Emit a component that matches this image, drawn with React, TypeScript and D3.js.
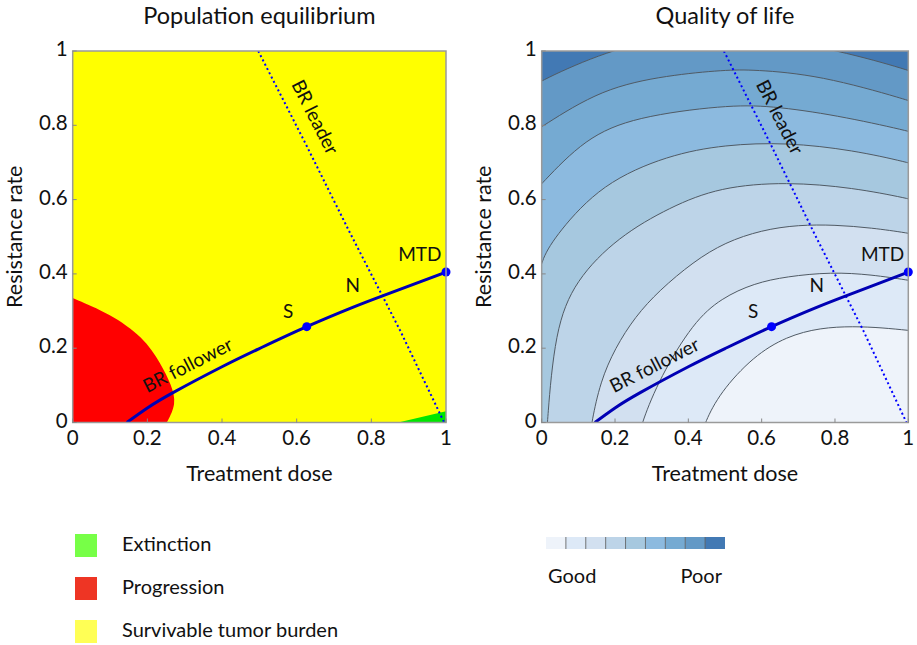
import * as d3 from 'd3';
import React from 'react';

const W = 917;
const H = 645;
const FONT = 'Lato, "Open Sans", sans-serif';

// axis ticks
const ticks = [0, 0.2, 0.4, 0.6, 0.8, 1];
const tickLabels = ['0', '0.2', '0.4', '0.6', '0.8', '1'];

// population equilibrium regions
const progression: number[][] = [
  [0, 0.335], [0.1, 0.293], [0.189, 0.23], [0.236, 0.159],
  [0.265, 0.1], [0.278, 0.05], [0.252, 0],
];
const extinction: number[][] = [[0.872, 0], [1, 0.03], [1, 0]];

// best-response curves
const follower: number[][] = [
  [0.145, 0], [0.2, 0.039], [0.27, 0.081], [0.4, 0.15], [0.5, 0.199],
  [0.627, 0.258], [0.75, 0.31], [0.83, 0.341], [1.0, 0.405],
];
const leader: number[][] = [
  [0.497, 1], [0.62, 0.758], [0.743, 0.51], [0.83, 0.34], [0.877, 0.248], [0.995, 0],
];
const points = [
  { name: 'S', x: 0.627, y: 0.258 },
  { name: 'MTD', x: 1.0, y: 0.405 },
];
const pointLabels = [
  { name: 'S', x: 0.577, y: 0.293 },
  { name: 'N', x: 0.75, y: 0.364 },
  { name: 'MTD', x: 0.93, y: 0.448 },
];

// quality of life contour lines, outer (poor) to inner (good)
const contours: number[][][] = [
  [[-0.05, 0.89], [0, 0.922], [0.177, 1.0], [0.35, 1.04], [0.55, 1.05], [0.818, 1.0], [1.0, 0.949], [1.05, 0.93]],
  [[-0.05, 0.765], [0, 0.796], [0.164, 0.899], [0.345, 0.935], [0.5, 0.949], [0.577, 0.95], [0.759, 0.935], [1.0, 0.868], [1.05, 0.85]],
  [[-0.05, 0.59], [0, 0.643], [0.118, 0.765], [0.255, 0.823], [0.5, 0.854], [0.623, 0.853], [0.805, 0.827], [1.0, 0.785], [1.05, 0.77]],
  [[-0.03, 0.3], [-0.012, 0.38], [0, 0.44], [0.043, 0.51], [0.164, 0.643], [0.345, 0.72], [0.5, 0.748], [0.668, 0.754], [0.85, 0.733], [1.0, 0.7], [1.05, 0.685]],
  [[0.013, -0.05], [0.015, 0], [0.036, 0.248], [0.091, 0.383], [0.209, 0.5], [0.35, 0.58], [0.486, 0.634], [0.668, 0.648], [0.85, 0.632], [1.0, 0.603], [1.05, 0.59]],
  [[0.13, -0.05], [0.136, 0], [0.16, 0.11], [0.2, 0.2], [0.255, 0.285], [0.32, 0.355], [0.414, 0.433], [0.5, 0.485], [0.6, 0.518], [0.7, 0.532], [0.8, 0.532], [0.9, 0.524], [1.0, 0.51], [1.05, 0.5]],
  [[0.262, -0.05], [0.273, 0], [0.323, 0.122], [0.414, 0.27], [0.49, 0.335], [0.58, 0.375], [0.668, 0.393], [0.79, 0.405], [0.9, 0.398], [1.0, 0.383], [1.05, 0.375]],
  [[0.43, -0.05], [0.445, 0], [0.486, 0.08], [0.577, 0.178], [0.668, 0.232], [0.76, 0.255], [0.85, 0.259], [0.93, 0.255], [1.0, 0.248], [1.05, 0.243]],
];
// band colours, poor to good
const bandColors = [
  '#4279b4', '#6399c6', '#75aad2', '#8cbadf', '#a6c8df',
  '#bdd4e8', '#d2e0f0', '#dde9f7', '#eef3fa',
];

const legendItems = [
  { label: 'Extinction', color: '#77ff47' },
  { label: 'Progression', color: '#ee3524' },
  { label: 'Survivable tumor burden', color: '#ffff55' },
];

const Panel = ({ x0, x1, title, id, qol }: { x0: number; x1: number; title: string; id: string; qol: boolean }) => {
  const y0 = 51;
  const y1 = 422.5;
  const xScale = d3.scaleLinear().domain([0, 1]).range([x0, x1]);
  const yScale = d3.scaleLinear().domain([0, 1]).range([y1, y0]);
  const line = d3.line<number[]>().x((d) => xScale(d[0])).y((d) => yScale(d[1]));
  const smooth = d3.line<number[]>().x((d) => xScale(d[0])).y((d) => yScale(d[1])).curve(d3.curveBasis);
  const natural = d3.line<number[]>().x((d) => xScale(d[0])).y((d) => yScale(d[1])).curve(d3.curveNatural);
  const cx = (x0 + x1) / 2;
  const fx = (d: number[]) => `${xScale(d[0])},${yScale(d[1])}`;

  return (
    <g>
      <defs>
        <clipPath id={id}>
          <rect x={x0} y={y0} width={x1 - x0} height={y1 - y0} />
        </clipPath>
      </defs>
      <g clipPath={`url(#${id})`}>
        {qol ? (
          <>
            <rect x={x0} y={y0} width={x1 - x0} height={y1 - y0} fill={bandColors[0]} />
            {contours.map((c, i) => (
              <path
                key={'f' + i}
                d={smooth(c) + `L${fx([1.2, -0.2])}L${fx([-0.2, -0.2])}Z`}
                fill={bandColors[i + 1]}
              />
            ))}
            {contours.map((c, i) => (
              <path key={'l' + i} d={smooth(c) || ''} fill="none" stroke="#505a64" strokeWidth={1} />
            ))}
          </>
        ) : (
          <>
            <rect x={x0} y={y0} width={x1 - x0} height={y1 - y0} fill="#ffff00" />
            <path d={smooth(progression) + `L${fx([0, 0])}Z`} fill="#ff0000" />
            <path d={line(extinction) + 'Z'} fill="#00e600" />
          </>
        )}
        <path d={line(leader) || ''} fill="none" stroke="#0000ff" strokeWidth={2} strokeDasharray="2,2.8" />
        <path d={natural(follower) || ''} fill="none" stroke="#0000b4" strokeWidth={3} />
      </g>
      {points.map((p) => (
        <circle key={p.name} cx={xScale(p.x)} cy={yScale(p.y)} r={4.5} fill="#0000ff" />
      ))}
      {pointLabels.map((p) => (
        <text key={p.name} x={xScale(p.x)} y={yScale(p.y)} textAnchor="middle" dominantBaseline="middle"
          fontFamily={FONT} fontSize={19} fill="#111">
          {p.name}
        </text>
      ))}
      <text transform={`translate(${xScale(0.31)},${yScale(0.15)}) rotate(-27)`} textAnchor="middle"
        dominantBaseline="middle" fontFamily={FONT} fontSize={19} fill="#111">
        BR follower
      </text>
      <text transform={`translate(${xScale(0.645)},${yScale(0.82)}) rotate(63)`} textAnchor="middle"
        dominantBaseline="middle" fontFamily={FONT} fontSize={19} fill="#111">
        BR leader
      </text>
      <rect x={x0} y={y0} width={x1 - x0} height={y1 - y0} fill="none" stroke="#9a9a9a" strokeWidth={1.5} />
      {ticks.map((t, i) => (
        <g key={'t' + i}>
          <line x1={x0} x2={x0 + 4} y1={yScale(t)} y2={yScale(t)} stroke="#888" />
          <line x1={xScale(t)} x2={xScale(t)} y1={y1} y2={y1 - 4} stroke="#888" />
          <text x={x0 - 5} y={yScale(t)} textAnchor="end" dominantBaseline="middle" fontFamily={FONT} fontSize={20.5} fill="#111">
            {tickLabels[i]}
          </text>
          <text x={xScale(t)} y={y1 + 17} textAnchor="middle" dominantBaseline="middle" fontFamily={FONT} fontSize={20.5} fill="#111">
            {tickLabels[i]}
          </text>
        </g>
      ))}
      <text x={cx} y={y1 + 53} textAnchor="middle" dominantBaseline="middle" fontFamily={FONT} fontSize={21.5} fill="#111">
        Treatment dose
      </text>
      <text transform={`translate(${x0 - 56},${(y0 + y1) / 2}) rotate(-90)`} textAnchor="middle" dominantBaseline="middle"
        fontFamily={FONT} fontSize={21.5} fill="#111">
        Resistance rate
      </text>
      <text x={cx} y={18} textAnchor="middle" dominantBaseline="middle" fontFamily={FONT} fontSize={23.5} fill="#111">
        {title}
      </text>
    </g>
  );
};

const App = () => {
  const barX = d3.scaleBand<number>().domain(d3.range(bandColors.length)).range([546, 725]);
  const goodToPoor = bandColors.slice().reverse();
  return (
    <svg width={W} height={H} style={{ position: 'absolute', left: 0, top: 0, background: '#fff' }}>
      <Panel x0={72.7} x1={446} title="Population equilibrium" id="clipA" qol={false} />
      <Panel x0={541.7} x1={908.3} title="Quality of life" id="clipB" qol={true} />
      {legendItems.map((d, i) => (
        <g key={d.label}>
          <rect x={75} y={534 + i * 43} width={22} height={23} fill={d.color} />
          <text x={122} y={546 + i * 43} dominantBaseline="middle" fontFamily={FONT} fontSize={20} fill="#111">
            {d.label}
          </text>
        </g>
      ))}
      {goodToPoor.map((c, i) => (
        <rect key={c} x={barX(i)} y={537} width={barX.bandwidth()} height={12} fill={c} />
      ))}
      {goodToPoor.slice(1).map((c, i) => (
        <line key={'s' + c} x1={barX(i + 1)} x2={barX(i + 1)} y1={537} y2={549} stroke="#555" strokeWidth={0.8} />
      ))}
      <text x={548} y={578} dominantBaseline="middle" fontFamily={FONT} fontSize={20} fill="#111">Good</text>
      <text x={722} y={578} textAnchor="end" dominantBaseline="middle" fontFamily={FONT} fontSize={20} fill="#111">Poor</text>
    </svg>
  );
};

export default App;
